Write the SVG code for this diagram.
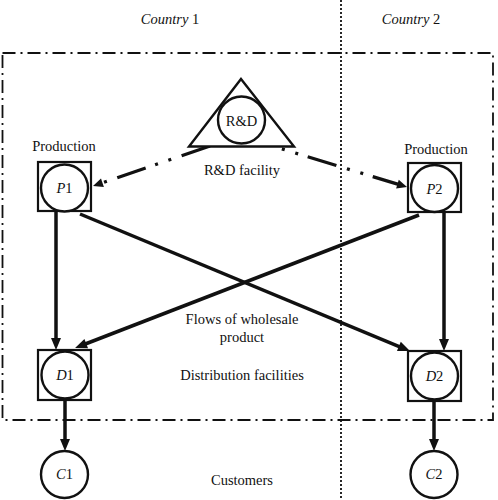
<svg xmlns="http://www.w3.org/2000/svg" width="498" height="500" viewBox="0 0 498 500">
<style>
text{font-family:"Liberation Serif","Times New Roman",serif;font-size:14.5px;fill:#111;text-anchor:middle}
.i{font-style:italic}
.box{fill:none;stroke:#111;stroke-width:2.2}
.cir{fill:#fff;stroke:#111;stroke-width:2.4}
.flow{fill:none;stroke:#111;stroke-width:3.5}
.rd{fill:none;stroke:#111;stroke-width:3.3;stroke-dasharray:30 11 3 11 3 10}
</style>
<defs>
<marker id="ah" markerUnits="userSpaceOnUse" markerWidth="13" markerHeight="11" refX="1" refY="5" orient="auto" overflow="visible">
<path d="M0,0 L12,5 L0,10 z" fill="#111"/>
</marker>
<marker id="ahs" markerUnits="userSpaceOnUse" markerWidth="11" markerHeight="10" refX="1" refY="4.5" orient="auto" overflow="visible">
<path d="M0,0 L10,4.5 L0,9 z" fill="#111"/>
</marker>
</defs>

<g id="borders">
<line x1="341" y1="0" x2="341" y2="500" stroke="#111" stroke-width="1.8" stroke-dasharray="2 2"/>
<rect x="2.5" y="53" width="490.5" height="367" fill="none" stroke="#111" stroke-width="1.8" stroke-dasharray="13 5 2 5"/>
</g>

<g id="labels">
<text x="170" y="24"><tspan class="i">Country</tspan> 1</text>
<text x="411" y="24"><tspan class="i">Country</tspan> 2</text>
<text x="64" y="151">Production</text>
<text x="436" y="154">Production</text>
<text x="242" y="175">R&amp;D facility</text>
<text x="242" y="324">Flows of wholesale</text>
<text x="242" y="342">product</text>
<text x="242" y="380">Distribution facilities</text>
<text x="242" y="485">Customers</text>
</g>

<g id="connectors">
<line class="flow" x1="56" y1="211" x2="56" y2="339" marker-end="url(#ah)"/>
<line class="flow" x1="444" y1="212" x2="444" y2="340" marker-end="url(#ah)"/>
<line class="flow" x1="65" y1="400" x2="65" y2="440" marker-end="url(#ah)"/>
<line class="flow" x1="434" y1="401" x2="434" y2="440" marker-end="url(#ah)"/>
<line class="flow" x1="80" y1="214" x2="399.8" y2="346.8" marker-end="url(#ah)"/>
<line class="flow" x1="419" y1="215" x2="85.3" y2="344" marker-end="url(#ah)"/>
<line class="rd" x1="210" y1="146" x2="101.5" y2="183.1" marker-end="url(#ahs)"/>
<line class="rd" x1="279" y1="148" x2="398.4" y2="184.4" stroke-dashoffset="38" marker-end="url(#ahs)"/>
</g>

<g id="rd">
<path d="M241,79 L294,146.5 L189,146.5 z" fill="#fff" stroke="#111" stroke-width="2.4" stroke-linejoin="miter"/>
<circle class="cir" cx="241.5" cy="120" r="23.5"/>
<text x="241.5" y="126">R&amp;D</text>
</g>

<g id="P1">
<rect class="box" x="38" y="162" width="53" height="49"/>
<circle class="cir" cx="64.5" cy="188" r="23.5"/>
<text x="64.5" y="193"><tspan class="i">P</tspan>1</text>
</g>

<g id="P2">
<rect class="box" x="408" y="163" width="53" height="49"/>
<circle class="cir" cx="434.5" cy="188.5" r="23.5"/>
<text x="434.5" y="193.5"><tspan class="i">P</tspan>2</text>
</g>

<g id="D1">
<rect class="box" x="38" y="350" width="53" height="50"/>
<circle class="cir" cx="65" cy="375" r="23.5"/>
<text x="65" y="379.5"><tspan class="i">D</tspan>1</text>
</g>

<g id="D2">
<rect class="box" x="408" y="351" width="53" height="50"/>
<circle class="cir" cx="434.5" cy="376" r="23.5"/>
<text x="434.5" y="380.5"><tspan class="i">D</tspan>2</text>
</g>

<g id="C1">
<circle class="cir" cx="64.5" cy="474.5" r="23.5"/>
<text x="64.5" y="479"><tspan class="i">C</tspan>1</text>
</g>

<g id="C2">
<circle class="cir" cx="434" cy="474.5" r="23.5"/>
<text x="434" y="479"><tspan class="i">C</tspan>2</text>
</g>
</svg>
